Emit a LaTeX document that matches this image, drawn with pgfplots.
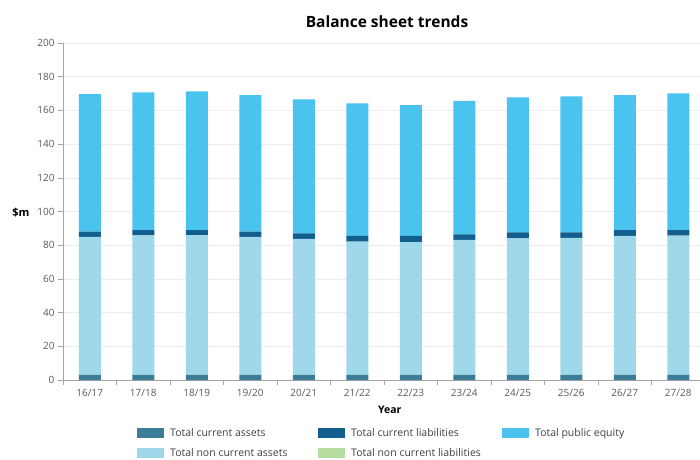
\documentclass[border=0pt]{standalone}
\usepackage{pgfplots}
\usepackage{pgfplotstable}
\pgfplotsset{compat=1.18}
\usepackage{fontspec}
\setmainfont{Open Sans}
\definecolor{cCA}{HTML}{3B7C96}
\definecolor{cNCA}{HTML}{9FD8EA}
\definecolor{cCL}{HTML}{125E8C}
\definecolor{cNCL}{HTML}{B7DDA0}
\definecolor{cEQ}{HTML}{4AC3EE}
\definecolor{ticktext}{HTML}{595959}
\definecolor{legtext}{HTML}{404040}
\pgfplotsset{leg/.style={legend image code/.code={\fill[##1] (0pt,-5pt) rectangle (27pt,5pt);}}}

\pgfplotstableread{
x CA NCA CL NCL EQ
0 3 82.0 3.0 0 81.7
1 3 82.9 3.1 0 81.7
2 3 83.0 3.0 0 82.3
3 3 82.0 3.0 0 81.1
4 3 80.7 3.3 0 79.6
5 3 79.1 3.5 0 78.6
6 3 78.9 3.6 0 77.7
7 3 80.1 3.4 0 79.1
8 3 81.1 3.5 0 80.2
9 3 81.3 3.3 0 80.8
10 3 82.5 3.5 0 80.1
11 3 82.7 3.3 0 81.1
}\data

\begin{document}
\begin{tikzpicture}
\useasboundingbox (-63pt,-79pt) rectangle (637pt,380pt);
\begin{axis}[
  at={(0,0)}, anchor=south west,
  scale only axis, width=642pt, height=337pt,
  xmin=-0.5, xmax=11.5, ymin=0, ymax=200,
  ybar stacked, bar width=22pt,
  axis x line*=bottom, axis y line*=left,
  ytick={0,20,...,200},
  xtick={0,...,11},
  xticklabels={16/17,17/18,18/19,19/20,20/21,21/22,22/23,23/24,24/25,25/26,26/27,27/28},
  minor xtick={-0.5,0.5,...,11.5},
  major x tick style={draw=none},
  tick align=outside, major tick length=5pt, minor tick length=5pt,
  tick style={draw=gray!70, line width=0.6pt},
  axis line style={draw=gray!70, line width=0.6pt},
  ymajorgrids, grid style={draw=gray!14, line width=0.5pt},
  ticklabel style={font=\fontsize{10}{11}\selectfont, text=ticktext},
  xticklabel style={yshift=-1pt},
  /pgf/number format/assume math mode=true,
  xlabel={\textbf{Year}}, ylabel={\textbf{\$m}},
  xlabel style={at={(axis description cs:0.509,0)}, anchor=center, yshift=-30pt, font=\fontsize{10.5}{12}\selectfont},
  ylabel style={rotate=-90, at={(axis description cs:0,0.4955)}, anchor=center, xshift=-42pt, font=\fontsize{11}{12}\selectfont},
  legend style={at={(axis description cs:0,0)}, anchor=north west, xshift=74pt, yshift=-46pt,
    draw=none, fill=none, inner sep=0pt, legend columns=3,
    font=\fontsize{10.5}{12}\selectfont, text=legtext,
    /tikz/every odd column/.style={column sep=4pt},
    /tikz/every even column/.style={column sep=13pt}, row sep=7pt},
  legend cell align=left,
]
\addplot[fill=cCA, draw=none, forget plot] table[x=x, y=CA] {\data};
\addplot[fill=cNCA, draw=none, forget plot] table[x=x, y=NCA] {\data};
\addplot[fill=cCL, draw=none, forget plot] table[x=x, y=CL] {\data};
\addplot[fill=cNCL, draw=none, forget plot] table[x=x, y=NCL] {\data};
\addplot[fill=cEQ, draw=none, forget plot] table[x=x, y=EQ] {\data};
\addlegendimage{leg, fill=cCA, draw=none}
\addlegendentry{\makebox[133pt][l]{Total current assets}}
\addlegendimage{leg, fill=cCL, draw=none}
\addlegendentry{\makebox[136pt][l]{Total current liabilities}}
\addlegendimage{leg, fill=cEQ, draw=none}
\addlegendentry{Total public equity}
\addlegendimage{leg, fill=cNCA, draw=none}
\addlegendentry{\makebox[133pt][l]{Total non current assets}}
\addlegendimage{leg, fill=cNCL, draw=none}
\addlegendentry{\makebox[136pt][l]{Total non current liabilities}}
\end{axis}
\node[font=\bfseries\fontsize{15.5}{17}\selectfont] at (324pt,358pt) {Balance sheet trends};
\end{tikzpicture}
\end{document}
